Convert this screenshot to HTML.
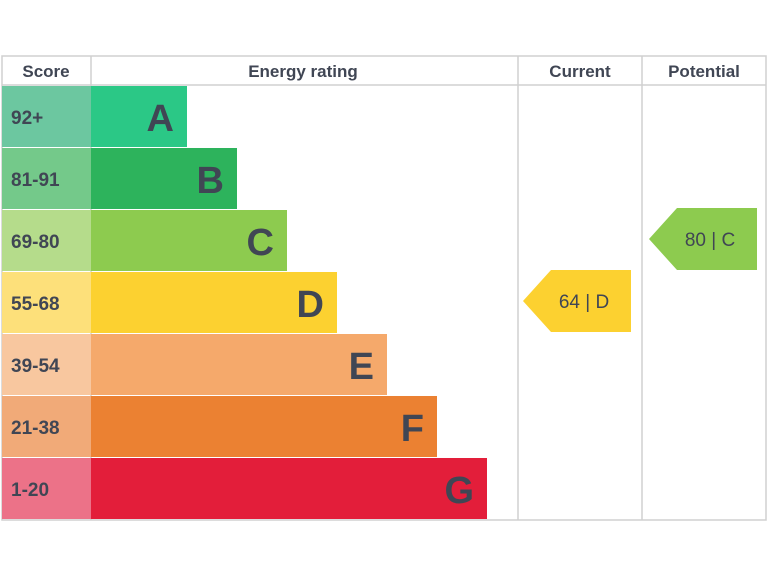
<!DOCTYPE html>
<html><head><meta charset="utf-8"><style>
html,body{margin:0;padding:0;background:#fff;width:768px;height:576px;overflow:hidden}
svg{display:block;font-family:"Liberation Sans",sans-serif}
</style></head><body>
<svg id="chart" width="768" height="576"></svg>
<script>
const bands=["A","B","C","D","E","F","G"];
const ranges=["92+","81-91","69-80","55-68","39-54","21-38","1-20"];
const mins=[92,81,69,55,39,21,1];
const barColors=["#2bc886","#2db35c","#8dcb4f","#fcd130","#f5a96b","#eb8132","#e31e3a"];
const scoreColors=["#6cc7a0","#74c98a","#b5dc8b","#fde07a","#f8c79f","#f1aa78","#ec7288"];
const currentScore=64, potentialScore=80;
const ns="http://www.w3.org/2000/svg",svg=document.getElementById('chart');
function mk(t,a,p){const e=document.createElementNS(ns,t);for(const k in a)e.setAttribute(k,a[k]);(p||svg).appendChild(e);return e;}
const top0=86,rowH=62,left=91,barBase=96,barStep=50;
const rowY=i=>top0+rowH*i;
const bandOf=s=>mins.findIndex(m=>s>=m);
// header
let h=mk('rect',{x:2,y:56,width:764,height:464,fill:'#fff',stroke:'#d0d0d0','stroke-width':1.5});


const heads=[["Score",46],["Energy rating",303],["Current",580],["Potential",704]];
heads.forEach(([t,x])=>{const e=mk('text',{x:x,y:77,'text-anchor':'middle','font-size':17,'font-weight':'bold',fill:'#404654'});e.textContent=t;

});
[[2,85,766,85],[91,56,91,520],[518,56,518,520],[642,56,642,520]].forEach(l=>{const e=mk('line',{x1:l[0],y1:l[1],x2:l[2],y2:l[3],stroke:'#d0d0d0','stroke-width':1.5});

});
bands.forEach((b,i)=>{
 const y=rowY(i),w=barBase+barStep*i;
 let r=mk('rect',{x:2,y:y,width:89,height:rowH-1,fill:scoreColors[i]});
 
 
 let t=mk('text',{x:11,y:y+38,'font-size':19,'font-weight':'bold',fill:'#404654'});t.textContent=ranges[i];
 
 
 let bar=mk('rect',{x:left,y:y,width:w,height:rowH-1,fill:barColors[i]});
 
 
 let l=mk('text',{x:left+w-13,y:y+45,'text-anchor':'end','font-size':38,'font-weight':'bold',fill:'#404654'});l.textContent=b;
 
 
});
function arrow(score,x0,name){
 const i=bandOf(score),y=rowY(i)-2,x1=x0+108,hh=rowH;
 const p=mk('polygon',{points:`${x0},${y+hh/2} ${x0+28},${y} ${x1},${y} ${x1},${y+hh} ${x0+28},${y+hh}`,fill:barColors[i]});
 
 
 const t=mk('text',{x:x0+61,y:y+hh/2+7,'text-anchor':'middle','font-size':19,fill:'#404654'});t.textContent=score+" | "+bands[i];
 
 
}
arrow(currentScore,523,'current');
arrow(potentialScore,649,'potential');
</script>
</body></html>
